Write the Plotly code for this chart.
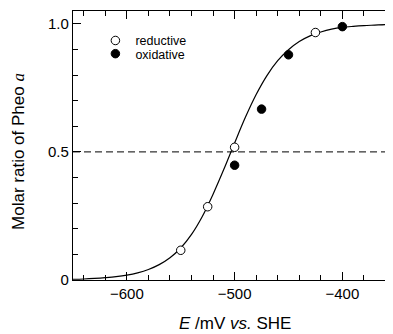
import plotly.graph_objects as go

# Data
red_x = [-550, -525, -500, -425]
red_y = [0.116, 0.286, 0.518, 0.966]
ox_x = [-500, -475, -450, -400]
ox_y = [0.448, 0.667, 0.879, 0.989]

fit_x = [-650, -640, -630, -620, -610, -600, -590, -580, -570, -560, -550,
         -540, -530, -520, -510, -500, -490, -480, -470, -460, -450,
         -440, -430, -420, -410, -400, -390, -380, -370, -360, -350]
fit_y = [0.003, 0.004, 0.006, 0.009, 0.013, 0.019, 0.028, 0.041, 0.060, 0.087, 0.125,
         0.178, 0.248, 0.335, 0.432, 0.535, 0.635, 0.724, 0.798, 0.856, 0.899,
         0.931, 0.953, 0.968, 0.979, 0.986, 0.990, 0.993, 0.995, 0.997, 0.998]

half_x = [-650, -350]
half_y = [0.5, 0.5]

x_ticks = [-600, -500, -400]
x_ticktext = ["\u2212600", "\u2212500", "\u2212400"]
y_ticks = [0, 0.5, 1.0]
y_ticktext = ["0", "0.5", "1.0"]

FONT = "Liberation Sans, Arial, sans-serif"

fig = go.Figure()
fig.add_trace(go.Scatter(x=half_x, y=half_y, mode="lines", showlegend=False,
                         line=dict(color="black", width=1, dash="7px,4px"), hoverinfo="skip"))
fig.add_trace(go.Scatter(x=fit_x, y=fit_y, mode="lines", showlegend=False,
                         line=dict(color="black", width=1.2, shape="spline"), hoverinfo="skip"))
fig.add_trace(go.Scatter(x=red_x, y=red_y, mode="markers", name="reductive", legend="legend",
                         marker=dict(symbol="circle", size=8.5, color="white",
                                     line=dict(color="black", width=1))))
fig.add_trace(go.Scatter(x=ox_x, y=ox_y, mode="markers", name="oxidative", legend="legend2",
                         marker=dict(symbol="circle", size=8.5, color="black",
                                     line=dict(color="black", width=1))))

axis_common = dict(showgrid=False, zeroline=False, showline=True, linecolor="black",
                   linewidth=1.3, mirror="ticks", ticks="inside", ticklen=8, tickwidth=1.2,
                   tickcolor="black", automargin=False,
                   tickfont=dict(family=FONT, size=15, color="black"))

fig.update_xaxes(range=[-650, -353], tickvals=x_ticks, ticktext=x_ticktext,
                 minor=dict(dtick=20, tick0=-600, ticks="inside", ticklen=5, tickwidth=1,
                            tickcolor="black"),
                 **axis_common)
fig.update_yaxes(range=[0, 1.05], tickvals=y_ticks, ticktext=y_ticktext,
                 minor=dict(dtick=0.1, tick0=0, ticks="inside", ticklen=5, tickwidth=1,
                            tickcolor="black"),
                 **axis_common)

legend_common = dict(font=dict(family=FONT, size=12.5, color="black"), bgcolor="rgba(0,0,0,0)",
                     borderwidth=0, xref="paper", yref="paper", xanchor="left",
                     yanchor="middle", tracegroupgap=0)
# the page body has an 8px margin, so the figure is sized to fit the 393x334 window
fig.update_layout(
    width=385, height=326,
    margin=dict(l=65, r=0, t=3, b=54, autoexpand=False),
    paper_bgcolor="white", plot_bgcolor="white",
    legend=dict(x=0.07, y=0.889, **legend_common),
    legend2=dict(x=0.07, y=0.840, **legend_common),
    annotations=[
        dict(text="Molar ratio of Pheo <i><span style='font-family:Liberation Serif'>a</span></i>",
             xref="paper", yref="y", x=0, y=0.5, xshift=-54, textangle=-90,
             showarrow=False, font=dict(family=FONT, size=17, color="black"),
             xanchor="center", yanchor="middle"),
        dict(text="<i>E</i> /mV <i>vs.</i> SHE", xref="x", yref="paper", x=-500, y=0,
             yshift=-43, showarrow=False, font=dict(family=FONT, size=17, color="black"),
             xanchor="center", yanchor="middle"),
    ],
)

fig.write_html("out.html")
